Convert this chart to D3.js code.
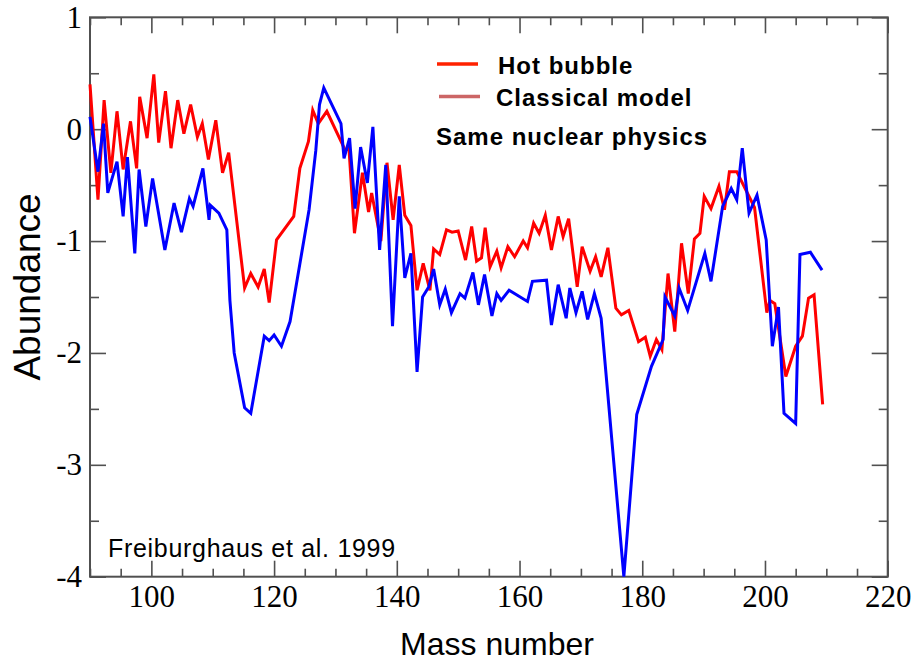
<!DOCTYPE html>
<html>
<head>
<meta charset="utf-8">
<script src="https://cdn.jsdelivr.net/npm/d3@7"></script>
<style>
    body { margin: 0; background: white; }
    svg { display: block; }
</style>
</head>
<body>
<script>
// Hot bubble (red line)
const hotMass = [
    90, 91.3, 92.3, 93.4, 94.4, 95.4, 96.6, 97.6, 98.1, 99.3,
    100.4, 101.2, 102.3, 103.2, 104.3, 105.3, 106.4, 107.5, 108.3, 109.3,
    110.5, 111.6, 112.6, 115.2, 116.2, 117.4, 118.4, 119.2, 120.4, 123.2,
    124.2, 125.6, 126.3, 127.2, 128.6, 131.6, 132.2, 133.1, 134.4, 135.4,
    135.9, 137.4, 138.4, 139.4, 140.4, 141.3, 142.3, 143.3, 144.3, 145.4,
    146, 147, 148.1, 149, 150, 151.2, 152.2, 153, 153.8, 154.4,
    155.2, 156.3, 157, 158.1, 159.2, 160.6, 161.3, 162.3, 163.2, 164.2,
    165.2, 166.3, 167.1, 168, 169.4, 170.2, 171.5, 172.4, 173.3, 174.4,
    175.7, 176.6, 177.8, 179.4, 180.5, 181.3, 182.3, 183.2, 184.2, 185.3,
    186.4, 187.5, 188.5, 189.4, 190.1, 191.2, 192.5, 193.4, 194.2, 195.4,
    198.3, 200.3, 200.8, 201.6, 203.4, 205, 206.1, 207.1, 208, 209.4
];
const hotAbund = [
    0.40, -0.63, 0.26, -0.39, 0.16, -0.36, 0.07, -0.35, 0.29, -0.08,
    0.49, -0.12, 0.34, -0.17, 0.26, -0.04, 0.22, -0.07, 0.05, -0.27,
    0.08, -0.39, -0.21, -1.42, -1.29, -1.41, -1.25, -1.55, -0.99, -0.78,
    -0.35, -0.11, 0.17, 0.05, 0.16, -0.19, -0.17, -0.93, -0.39, -0.74,
    -0.57, -1.0, -0.30, -0.81, -0.32, -0.77, -0.86, -1.44, -1.20, -1.44,
    -1.07, -1.12, -0.90, -0.92, -0.91, -1.17, -0.87, -1.18, -1.15, -0.88,
    -1.23, -1.09, -1.24, -1.05, -1.14, -1.0, -1.06, -0.84, -0.93, -0.77,
    -1.08, -0.78, -0.96, -0.80, -1.41, -1.05, -1.27, -1.14, -1.32, -1.06,
    -1.60, -1.66, -1.62, -1.90, -1.86, -2.03, -1.88, -1.97, -1.29, -1.81,
    -1.02, -1.47, -0.98, -0.93, -0.60, -0.71, -0.51, -0.72, -0.38, -0.38,
    -0.70, -1.64, -1.53, -1.56, -2.21, -1.94, -1.85, -1.51, -1.48, -2.46
];

// Classical model (blue line)
const classMass = [
    90, 91.3, 92.2, 92.9, 94.4, 95.4, 96.1, 97.3, 98, 99.1,
    100.2, 102.2, 103.7, 104.9, 106.2, 106.8, 108.4, 109.4, 109.6, 111,
    112.3, 112.8, 113.5, 115.2, 116.2, 118.4, 119.2, 120, 121.2, 122.6,
    125.7, 126.8, 127.4, 128.1, 130.9, 131.4, 132.3, 133.2, 134.1, 135.2,
    136.1, 137.2, 138.2, 139.3, 140.4, 141.3, 142.3, 143.3, 144.2, 145.2,
    146, 147, 147.9, 148.9, 150.3, 151.1, 152.4, 153.3, 154.3, 155.5,
    156.3, 157, 158.3, 161.3, 162.1, 164.4, 165.2, 166.3, 167.6, 168.2,
    169.2, 170.2, 171.1, 172.2, 173.3, 177, 179.1, 181.5, 183.4, 183.7,
    185.3, 186, 187.4, 190.2, 191.2, 193.1, 194.5, 195.4, 196.3, 197.4,
    198.7, 200.2, 201.2, 202.2, 203.1, 205, 205.7, 207.4, 209.3
];
const classAbund = [
    0.11, -0.38, 0.05, -0.57, -0.29, -0.78, -0.25, -1.11, -0.36, -0.87,
    -0.44, -1.08, -0.66, -0.92, -0.62, -0.69, -0.35, -0.81, -0.68, -0.75,
    -0.90, -1.53, -2.0, -2.49, -2.54, -1.85, -1.89, -1.84, -1.94, -1.72,
    -0.72, -0.19, 0.22, 0.37, 0.05, -0.26, -0.08, -0.71, -0.16, -0.48,
    0.02, -1.08, -0.32, -1.76, -0.60, -1.33, -1.11, -2.17, -1.50, -1.41,
    -1.25, -1.57, -1.43, -1.64, -1.47, -1.51, -1.28, -1.57, -1.30, -1.67,
    -1.47, -1.53, -1.44, -1.54, -1.36, -1.35, -1.75, -1.39, -1.69, -1.42,
    -1.64, -1.45, -1.70, -1.47, -1.69, -4.0, -2.55, -2.12, -1.88, -1.50,
    -1.67, -1.42, -1.62, -1.11, -1.36, -0.69, -0.53, -0.63, -0.17, -0.75,
    -0.59, -0.99, -1.94, -1.59, -2.54, -2.63, -1.12, -1.10, -1.26
];

const xMajor = [100, 120, 140, 160, 180, 200, 220];
const yMajor = [-4, -3, -2, -1, 0, 1];
const legendLabels = ["Hot bubble", "Classical model"];
const noteText = "Same nuclear physics";
const citeText = "Freiburghaus et al. 1999";

const W = 913, H = 661;
const plotL = 90, plotR = 887.7, plotT = 17.3, plotB = 576.7;

const svg = d3.select('body')
    .append('svg')
    .attr('width', W)
    .attr('height', H);

const x = d3.scaleLinear().domain([90, 220]).range([plotL, plotR]);
const y = d3.scaleLinear().domain([-4, 1]).range([plotB, plotT]);

const xMinor = d3.range(90, 221, 5).filter(d => !xMajor.includes(d));
const yMinor = d3.range(-3.5, 1, 1);

const axisColor = '#505050';
const serif = '"Liberation Serif", "Times New Roman", serif';
const sans = '"Liberation Sans", Arial, sans-serif';

//ticks all point inward
function styleAxis(g) {
    g.select('.domain').remove();
    g.selectAll('line').attr('stroke', axisColor).attr('stroke-width', 1.6);
    g.selectAll('text')
        .attr('fill', 'black')
        .style('font-family', serif)
        .style('font-size', '31px');
}

// plain hyphen for the minus sign, like the original
const plainFmt = d => String(d);

// bottom
svg.append('g').attr('transform', `translate(0,${plotB})`)
    .call(d3.axisBottom(x).tickValues(xMajor).tickSize(-16).tickPadding(8).tickFormat(plainFmt))
    .call(styleAxis);
svg.append('g').attr('transform', `translate(0,${plotB})`)
    .call(d3.axisBottom(x).tickValues(xMinor).tickSize(-8).tickFormat(''))
    .call(styleAxis);
// top
svg.append('g').attr('transform', `translate(0,${plotT})`)
    .call(d3.axisTop(x).tickValues(xMajor).tickSize(-16).tickFormat(''))
    .call(styleAxis);
svg.append('g').attr('transform', `translate(0,${plotT})`)
    .call(d3.axisTop(x).tickValues(xMinor).tickSize(-8).tickFormat(''))
    .call(styleAxis);
// left
svg.append('g').attr('transform', `translate(${plotL},0)`)
    .call(d3.axisLeft(y).tickValues(yMajor).tickSize(-16).tickPadding(8).tickFormat(plainFmt))
    .call(styleAxis);
svg.append('g').attr('transform', `translate(${plotL},0)`)
    .call(d3.axisLeft(y).tickValues(yMinor).tickSize(-9).tickFormat(''))
    .call(styleAxis);
// right
svg.append('g').attr('transform', `translate(${plotR},0)`)
    .call(d3.axisRight(y).tickValues(yMajor).tickSize(-16).tickFormat(''))
    .call(styleAxis);
svg.append('g').attr('transform', `translate(${plotR},0)`)
    .call(d3.axisRight(y).tickValues(yMinor).tickSize(-9).tickFormat(''))
    .call(styleAxis);

// frame
svg.append('rect')
    .attr('x', plotL).attr('y', plotT)
    .attr('width', plotR - plotL).attr('height', plotB - plotT)
    .attr('fill', 'none')
    .attr('stroke', axisColor)
    .attr('stroke-width', 2);

const line = d3.line()
    .x(d => x(d[0]))
    .y(d => y(d[1]));

const hotData = hotMass.map((m, i) => [m, hotAbund[i]]);
const classData = classMass.map((m, i) => [m, classAbund[i]]);

svg.append('path')
    .datum(hotData)
    .attr('d', line)
    .attr('fill', 'none')
    .attr('stroke', '#ff0000')
    .attr('stroke-width', 3);

svg.append('path')
    .datum(classData)
    .attr('d', line)
    .attr('fill', 'none')
    .attr('stroke', '#0000ff')
    .attr('stroke-width', 3);

// legend
const legendColors = ['#ff2200', '#cc6666'];
const legend = svg.append('g');
legendLabels.forEach((lab, i) => {
    const ly = 64 + i * 32.5;
    legend.append('line')
        .attr('x1', 437 + i * 2).attr('x2', 478 + i * 2)
        .attr('y1', ly).attr('y2', ly)
        .attr('stroke', legendColors[i])
        .attr('stroke-width', 3.5);
    legend.append('text')
        .attr('x', 498 - i * 2).attr('y', ly + 9.5)
        .style('font-family', sans)
        .style('font-size', '24px')
        .style('font-weight', 'bold')
        .style('letter-spacing', '1px')
        .text(lab);
});
svg.append('text')
    .attr('x', 436).attr('y', 145)
    .style('font-family', sans)
    .style('font-size', '24px')
    .style('font-weight', 'bold')
    .style('letter-spacing', '1px')
    .text(noteText);

svg.append('text')
    .attr('x', 108).attr('y', 557)
    .style('font-family', sans)
    .style('font-size', '25px')
    .style('letter-spacing', '0.7px')
    .text(citeText);

// axis titles
svg.append('text')
    .attr('x', 497).attr('y', 655)
    .attr('text-anchor', 'middle')
    .style('font-family', sans)
    .style('font-size', '32px')
    .text('Mass number');

svg.append('text')
    .attr('transform', 'translate(39.5,287) rotate(-90)')
    .attr('text-anchor', 'middle')
    .style('font-family', sans)
    .style('font-size', '37px')
    .text('Abundance');
</script>
</body>
</html>
